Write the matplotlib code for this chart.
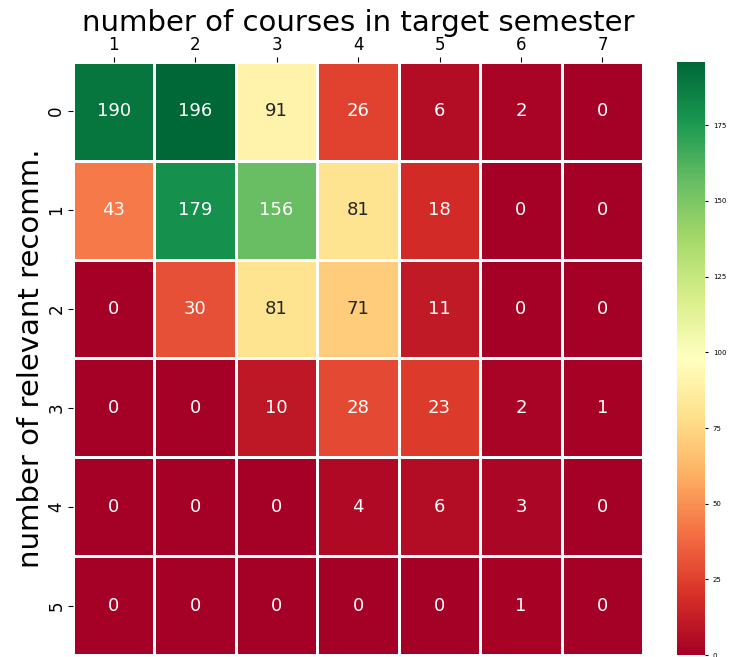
import numpy as np
import matplotlib
matplotlib.use("Agg")
from matplotlib import pyplot as plt
import seaborn as sns

courses = [1, 2, 3, 4, 5, 6, 7]
relevant = [0, 1, 2, 3, 4, 5]
counts = np.array([
    [190, 196, 91, 26, 6, 2, 0],
    [43, 179, 156, 81, 18, 0, 0],
    [0, 30, 81, 71, 11, 0, 0],
    [0, 0, 10, 28, 23, 2, 1],
    [0, 0, 0, 4, 6, 3, 0],
    [0, 0, 0, 0, 0, 1, 0],
])

fig = plt.figure(figsize=(7.3, 6.57), dpi=100)
ax = fig.add_axes([0.1, 0.003, 0.781, 0.903])
cax = fig.add_axes([0.927, 0.003, 0.039, 0.903])

sns.heatmap(counts, ax=ax, cbar_ax=cax, cmap="RdYlGn", annot=True, fmt="d",
            annot_kws={"size": 13}, linewidths=0.8, linecolor="white",
            xticklabels=courses, yticklabels=relevant)

ax.xaxis.tick_top()
ax.xaxis.set_label_position("top")
ax.set_xlabel("number of courses in target semester", fontsize=21, labelpad=4)
ax.set_ylabel("number of relevant recomm.", fontsize=21, labelpad=2)
ax.tick_params(axis="both", labelsize=12, pad=2)
cax.tick_params(labelsize=5, length=2)

plt.savefig("out.png", dpi=100)
